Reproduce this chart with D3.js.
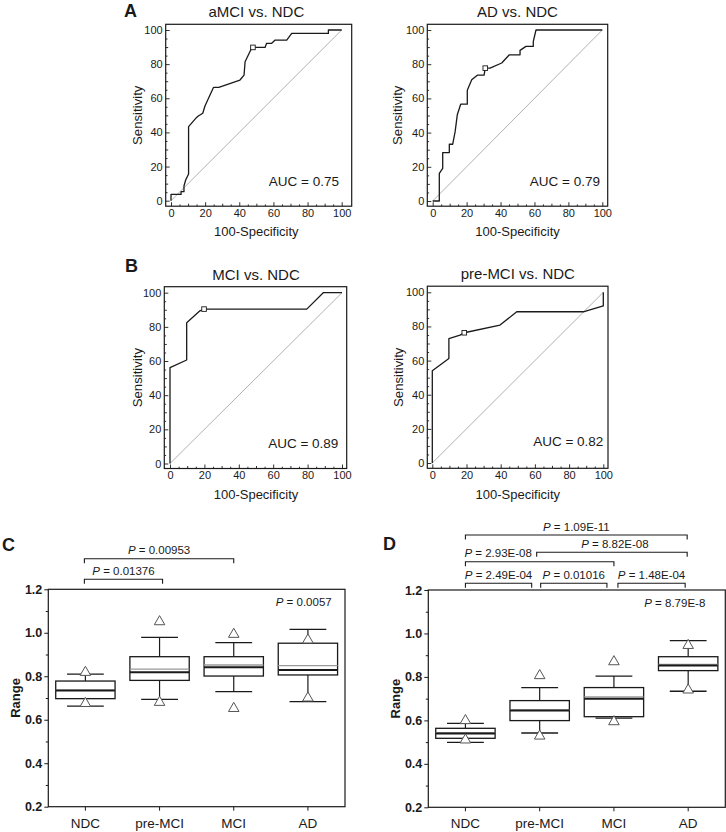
<!DOCTYPE html>
<html><head><meta charset="utf-8">
<script src="https://cdn.jsdelivr.net/npm/d3@7"></script>
<style>
body{margin:0;background:#fff;}
svg{display:block;font-family:"Liberation Sans",Arial,Helvetica,sans-serif;}
</style></head>
<body><svg id="chart" width="726" height="832"></svg>
<script>
// ---------------- DATA ----------------
const rocTitles = ["aMCI vs. NDC", "AD vs. NDC", "MCI vs. NDC", "pre-MCI vs. NDC"];
const rocAUC = ["0.75", "0.79", "0.89", "0.82"];
const rocAMCI = [[0,0],[0,3.7],[5.9,3.7],[5.9,5.3],[7.6,5.3],[7.6,8.6],[8.6,12.1],[10.3,15.6],[10.3,43.4],[15,48.8],[16,49.6],[18.6,51.2],[19.9,55.5],[24.8,66.2],[25.4,66.4],[28,66.4],[40.4,70.7],[42.8,73.6],[43.4,81.4],[45.3,85.4],[46.7,88.3],[48,89.8],[55.1,89.8],[56,92.2],[59,92.2],[61,94.1],[67.8,94.1],[70.7,98],[92.2,98],[92.2,100],[100,100]];
const rocAD = [[0,0],[3.9,0],[3.9,16.2],[5.9,19.1],[5.9,28.3],[9.8,28.3],[9.8,33.2],[11.8,33.2],[13.2,40.4],[14.5,50.4],[16.5,56.6],[20.4,56.6],[20.4,64.8],[23,70.9],[26.3,73.6],[30.3,73.6],[31,77.7],[33.8,77.7],[40.7,80.7],[45.2,85.5],[51.5,85.5],[51.5,88.1],[55,90.4],[59.3,90.4],[59.3,93.2],[60.9,100],[100,100]];
const rocMCI = [[0,0],[0,56.1],[9.7,60.6],[9.7,82.4],[17.4,89.4],[19.8,90.4],[79.5,90.4],[89.1,100],[100,100]];
const rocPreMCI = [[0,0],[0,54],[9.7,61.2],[9.7,72.9],[16.2,74.9],[18.7,76.3],[39.6,80.8],[49.4,88.6],[88.3,88.6],[100,92],[100,100]];
const rocCutoff = [[48,89.8],[31,77.7],[19.8,90.4],[18.7,76.3]];
const rocMajorTicks = [0, 20, 40, 60, 80, 100];

const groups = ["NDC", "pre-MCI", "MCI", "AD"];
const rangeTicks = [0.2, 0.4, 0.6, 0.8, 1.0, 1.2];
const rangeMinor = [0.3, 0.5, 0.7, 0.9, 1.1];

// Panel C
const cQ1 = [0.697, 0.781, 0.801, 0.806];
const cQ3 = [0.778, 0.890, 0.890, 0.952];
const cMedian = [0.735, 0.819, 0.842, 0.829];
const cMean = [0.736, 0.833, 0.852, 0.849];
const cWhiskerLo = [0.663, 0.694, 0.729, 0.683];
const cWhiskerHi = [0.810, 0.979, 0.955, 1.016];
const cMin = [0.675, 0.680, 0.652, 0.700];
const cMax = [0.818, 1.051, 0.993, 0.967];
const cOverallP = "0.0057";
const cPairs = [["NDC", "pre-MCI", "0.01376"], ["NDC", "MCI", "0.00953"]];

// Panel D
const dQ1 = [0.5175, 0.599, 0.617, 0.829];
const dQ3 = [0.5635, 0.691, 0.751, 0.893];
const dMedian = [0.540, 0.645, 0.700, 0.852];
const dMean = [0.543, 0.648, 0.708, 0.857];
const dWhiskerLo = [0.499, 0.542, 0.610, 0.734];
const dWhiskerHi = [0.586, 0.751, 0.804, 0.967];
const dMin = [0.510, 0.528, 0.594, 0.740];
const dMax = [0.599, 0.806, 0.870, 0.945];
const dOverallP = "8.79E-8";
const dPairs = [["NDC", "pre-MCI", "2.49E-04"], ["pre-MCI", "MCI", "0.01016"], ["MCI", "AD", "1.48E-04"],
                ["NDC", "MCI", "2.93E-08"], ["pre-MCI", "AD", "8.82E-08"], ["NDC", "AD", "1.09E-11"]];

// ---------------- DRAW ----------------
const svg = d3.select("#chart");
const INK = "#1a1a1a";

function panelLetter(t, x, y) {
  svg.append("text").attr("x", x).attr("y", y).attr("font-size", 18).attr("font-weight", "bold")
    .attr("fill", INK).text(t);
}

// ROC panel layouts (pixel geometry)
const rocLayout = [
  {data: rocAMCI, box: [165.7, 24.3, 351.7, 206.2], xr: [171, 341.7], yr: [200.7, 30], titleY: 17, aucX: 339, aucY: 185.7, sensX: 137, specY: 236},
  {data: rocAD, box: [427.3, 24.3, 607.7, 206.2], xr: [432.7, 602.3], yr: [201, 30], titleY: 17, aucX: 600, aucY: 185.7, sensX: 397, specY: 236},
  {data: rocMCI, box: [164.3, 286.7, 346.7, 468.5], xr: [170, 342], yr: [463.5, 292.7], titleY: 279.5, aucX: 338.3, aucY: 448.3, sensX: 137, specY: 498.5},
  {data: rocPreMCI, box: [427.3, 286.2, 608, 468.3], xr: [432.3, 603.3], yr: [463, 292.3], titleY: 279, aucX: 603.3, aucY: 445.7, sensX: 398.5, specY: 498.5}
];

rocLayout.forEach((L, i) => {
  const g = svg.append("g");
  const x = d3.scaleLinear().domain([0, 100]).range(L.xr);
  const y = d3.scaleLinear().domain([0, 100]).range(L.yr);
  const [bl, bt, br, bb] = L.box;
  const minorVals = d3.range(5, 100, 10);

  // axes (ticks inward)
  const xa = g.append("g").attr("transform", `translate(0,${bb})`)
    .call(d3.axisBottom(x).tickValues(rocMajorTicks).tickSizeInner(-4).tickSizeOuter(0).tickPadding(3));
  const xm = g.append("g").attr("transform", `translate(0,${bb})`)
    .call(d3.axisBottom(x).tickValues(d3.range(10, 100, 10).filter(v => v % 20)).tickSizeInner(-2.5).tickSizeOuter(0).tickFormat(""));
  const xm2 = g.append("g").attr("transform", `translate(0,${bb})`)
    .call(d3.axisBottom(x).tickValues(minorVals).tickSizeInner(-1.8).tickSizeOuter(0).tickFormat(""));
  const ya = g.append("g").attr("transform", `translate(${bl},0)`)
    .call(d3.axisLeft(y).tickValues(rocMajorTicks).tickSizeInner(-4).tickSizeOuter(0).tickPadding(3));
  const ym = g.append("g").attr("transform", `translate(${bl},0)`)
    .call(d3.axisLeft(y).tickValues(d3.range(10, 100, 10).filter(v => v % 20)).tickSizeInner(-2.5).tickSizeOuter(0).tickFormat(""));
  const ym2 = g.append("g").attr("transform", `translate(${bl},0)`)
    .call(d3.axisLeft(y).tickValues(minorVals).tickSizeInner(-1.8).tickSizeOuter(0).tickFormat(""));
  [xa, xm, xm2, ya, ym, ym2].forEach(a => {
    a.select(".domain").remove();
    a.selectAll("line").attr("stroke", INK).attr("stroke-width", 0.9);
    a.selectAll("text").attr("font-size", 11).attr("fill", INK).attr("font-family", null);
  });

  // diagonal
  g.append("line").attr("x1", x(0)).attr("y1", y(0)).attr("x2", x(100)).attr("y2", y(100))
    .attr("stroke", "#a8a8a8").attr("stroke-width", 0.9);

  // curve
  g.append("path").datum(L.data)
    .attr("d", d3.line().x(d => x(d[0])).y(d => y(d[1])))
    .attr("fill", "none").attr("stroke", INK).attr("stroke-width", 1.3).attr("stroke-linejoin", "round");

  // cutoff marker
  const c = rocCutoff[i];
  g.append("rect").attr("x", x(c[0]) - 2.3).attr("y", y(c[1]) - 2.3).attr("width", 4.6).attr("height", 4.6)
    .attr("fill", "#fff").attr("stroke", INK).attr("stroke-width", 0.9);

  // frame
  g.append("rect").attr("x", bl).attr("y", bt).attr("width", br - bl).attr("height", bb - bt)
    .attr("fill", "none").attr("stroke", INK).attr("stroke-width", 1.2);

  // texts
  g.append("text").attr("x", (L.xr[0] + L.xr[1]) / 2).attr("y", L.titleY).attr("text-anchor", "middle")
    .attr("font-size", 15).attr("fill", INK).text(rocTitles[i]);
  g.append("text").attr("x", L.aucX).attr("y", L.aucY).attr("text-anchor", "end")
    .attr("font-size", 13.5).attr("fill", INK).text("AUC = " + rocAUC[i]);
  g.append("text").attr("transform", `translate(${L.sensX},${(bt + bb) / 2}) rotate(-90)`)
    .attr("text-anchor", "middle").attr("dy", "0.35em").attr("font-size", 13.2).attr("fill", INK).text("Sensitivity");
  g.append("text").attr("x", (L.xr[0] + L.xr[1]) / 2).attr("y", L.specY).attr("text-anchor", "middle")
    .attr("font-size", 13).attr("fill", INK).text("100-Specificity");
});

panelLetter("A", 124, 16.5);
panelLetter("B", 125, 272);
panelLetter("C", 2, 551);
panelLetter("D", 383, 550);

// ---------------- Box plots ----------------
function boxPanel(opt) {
  const g = svg.append("g");
  const [bl, bt, br, bb] = opt.box;
  const x = d3.scaleBand().domain(groups).range([bl, br]).paddingInner(0).paddingOuter(0);
  const y = d3.scaleLinear().domain([0.2, 1.2]).range([bb, bt]);
  const cx = k => x(k) + x.bandwidth() / 2;
  const bw = x.bandwidth() * 0.8, cw = bw * 0.62;

  const ya = g.append("g").attr("transform", `translate(${bl},0)`)
    .call(d3.axisLeft(y).tickValues(rangeTicks).tickFormat(d3.format(".1f")).tickSizeInner(4).tickSizeOuter(0).tickPadding(2));
  const ym = g.append("g").attr("transform", `translate(${bl},0)`)
    .call(d3.axisLeft(y).tickValues(rangeMinor).tickFormat("").tickSizeInner(2.5).tickSizeOuter(0));
  const xa = g.append("g").attr("transform", `translate(0,${bb})`)
    .call(d3.axisBottom(x).tickSizeInner(4).tickSizeOuter(0).tickPadding(7.5));
  [ya, ym, xa].forEach(a => {
    a.select(".domain").remove();
    a.selectAll("line").attr("stroke", INK).attr("stroke-width", 1);
    a.selectAll("text").attr("fill", INK).attr("font-family", null);
  });
  ya.selectAll("text").attr("font-size", 12.5).attr("font-weight", "bold");
  xa.selectAll("text").attr("font-size", 13.5);

  const s = opt.stats;
  groups.forEach((k, i) => {
    const c = cx(k);
    // whiskers
    g.append("line").attr("x1", c).attr("x2", c).attr("y1", y(s.q3[i])).attr("y2", y(s.hi[i])).attr("stroke", INK).attr("stroke-width", 1.2);
    g.append("line").attr("x1", c).attr("x2", c).attr("y1", y(s.q1[i])).attr("y2", y(s.lo[i])).attr("stroke", INK).attr("stroke-width", 1.2);
    [s.hi[i], s.lo[i]].forEach(v => g.append("line").attr("x1", c - cw / 2).attr("x2", c + cw / 2).attr("y1", y(v)).attr("y2", y(v))
      .attr("stroke", INK).attr("stroke-width", 1.3));
    // box
    g.append("rect").attr("x", c - bw / 2).attr("y", y(s.q3[i])).attr("width", bw).attr("height", y(s.q1[i]) - y(s.q3[i]))
      .attr("fill", "#fff").attr("stroke", INK).attr("stroke-width", 1.3);
    g.append("line").attr("x1", c - bw / 2).attr("x2", c + bw / 2).attr("y1", y(s.mean[i])).attr("y2", y(s.mean[i]))
      .attr("stroke", "#9a9a9a").attr("stroke-width", 1.4);
    g.append("line").attr("x1", c - bw / 2).attr("x2", c + bw / 2).attr("y1", y(s.median[i])).attr("y2", y(s.median[i]))
      .attr("stroke", INK).attr("stroke-width", 2);
    // extreme markers
    [s.max[i], s.min[i]].forEach(v => g.append("path").attr("d", d3.symbol(d3.symbolTriangle, 48)())
      .attr("transform", `translate(${c},${y(v)})`).attr("fill", "#fff").attr("stroke", "#555").attr("stroke-width", 1));
  });

  // frame
  g.append("rect").attr("x", bl).attr("y", bt).attr("width", br - bl).attr("height", bb - bt)
    .attr("fill", "none").attr("stroke", INK).attr("stroke-width", 1.2);

  // overall p
  const pt = g.append("text").attr("x", opt.overallX).attr("y", bt + 17).attr("text-anchor", "end").attr("font-size", 11.5).attr("fill", INK);
  pt.append("tspan").attr("font-style", "italic").text("P");
  pt.append("tspan").text(" = " + opt.overallP);

  // pairwise brackets
  opt.pairs.forEach((p, j) => {
    const b = opt.bracket[j];
    const x1 = cx(p[0]) + b.dx1, x2 = cx(p[1]) + b.dx2;
    g.append("path").attr("d", `M${x1},${b.y + 4.5}V${b.y}H${x2}V${b.y + 4.5}`)
      .attr("fill", "none").attr("stroke", INK).attr("stroke-width", 1.1);
    const tx = b.anchor === "start" ? x1 - 1 : (x1 + x2) / 2 + (b.tdx || 0);
    const t = g.append("text").attr("x", tx).attr("y", b.y - 4.5).attr("text-anchor", b.anchor || "middle")
      .attr("font-size", 11.5).attr("fill", INK);
    t.append("tspan").attr("font-style", "italic").text("P");
    t.append("tspan").text(" = " + p[2]);
  });

  g.append("text").attr("transform", `translate(${opt.rangeX},${(bt + bb) / 2}) rotate(-90)`)
    .attr("text-anchor", "middle").attr("dy", "0.35em").attr("font-size", 13).attr("font-weight", "bold").attr("fill", INK).text("Range");
}

boxPanel({
  box: [48.3, 589.3, 345, 806.7],
  stats: {q1: cQ1, q3: cQ3, median: cMedian, mean: cMean, lo: cWhiskerLo, hi: cWhiskerHi, min: cMin, max: cMax},
  overallP: cOverallP, overallX: 331.7, rangeX: 15,
  pairs: cPairs,
  bracket: [{y: 579.3, dx1: -1, dx2: 3}, {y: 558.7, dx1: -1, dx2: 0}]
});

boxPanel({
  box: [428.3, 590, 725.3, 807.3],
  stats: {q1: dQ1, q3: dQ3, median: dMedian, mean: dMean, lo: dWhiskerLo, hi: dWhiskerHi, min: dMin, max: dMax},
  overallP: dOverallP, overallX: 705.3, rangeX: 395.5,
  pairs: dPairs,
  bracket: [{y: 583.3, dx1: 0, dx2: -8}, {y: 583.3, dx1: 1, dx2: -7}, {y: 583.3, dx1: 4, dx2: -3},
            {y: 561.7, dx1: 0, dx2: 0, anchor: "start"}, {y: 552.3, dx1: -3, dx2: -1, tdx: 3}, {y: 535, dx1: 0, dx2: -1}]
});
</script></body></html>
